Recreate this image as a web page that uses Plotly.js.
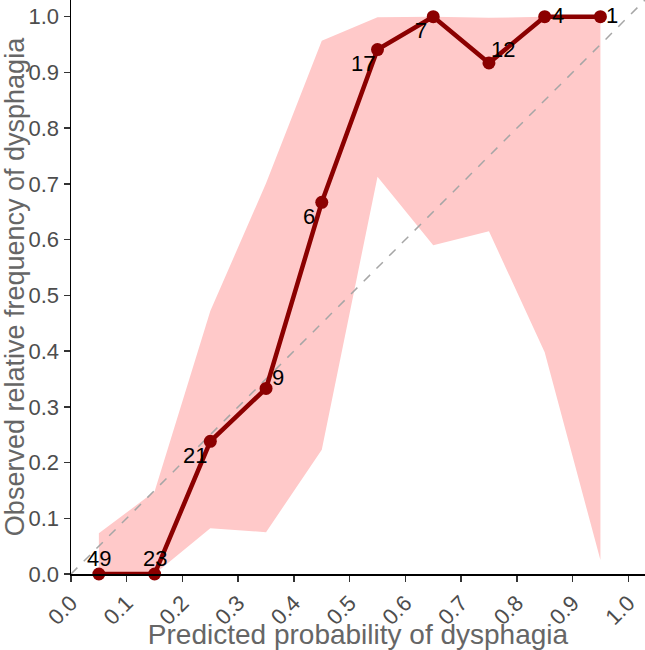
<!DOCTYPE html>
<html>
<head>
<meta charset="utf-8">
<script src="https://cdn.plot.ly/plotly-3.0.1.min.js"></script>
<style>
  html, body { margin: 0; padding: 0; background: #fff; }
  #plot { width: 645px; height: 650px; }
</style>
</head>
<body>
<div id="plot"></div>
<script>
// bin midpoints and observed frequencies
const predicted = [0.05, 0.15, 0.25, 0.35, 0.45, 0.55, 0.65, 0.75, 0.85, 0.95];
const observed = [0, 0, 0.238, 0.333, 0.667, 0.941, 1, 0.917, 1, 1];
const counts = ["49", "23", "21", "9", "6", "17", "7", "12", "4", "1"];
const ciLower = [0, 0, 0.082, 0.075, 0.223, 0.713, 0.590, 0.615, 0.398, 0.025];
const ciUpper = [0.073, 0.148, 0.472, 0.701, 0.957, 0.999, 1, 0.998, 1, 1];
const ticks = [0, 0.1, 0.2, 0.3, 0.4, 0.5, 0.6, 0.7, 0.8, 0.9, 1.0];

// label nudges in pixels
const labelShiftX = [0, 0, -15, 12, -13, -15, -12, 14, 13, 12];
const labelShiftY = [16, 16, -14, 11, -14, -14, -14, 13, 1, 1];

const axMax = 1.03;
const darkRed = "#8B0000";
const font = "Liberation Sans, Arial, sans-serif";

const traces = [
  {
    x: predicted, y: ciLower, type: "scatter", mode: "lines",
    line: { width: 0 }, hoverinfo: "skip", showlegend: false
  },
  {
    x: predicted, y: ciUpper, type: "scatter", mode: "lines",
    line: { width: 0 }, fill: "tonexty", fillcolor: "#FFC9C9",
    hoverinfo: "skip", showlegend: false
  },
  {
    x: [0, axMax], y: [0, axMax], type: "scatter", mode: "lines",
    line: { color: "#A6A6A6", width: 1.5, dash: "dash" }, showlegend: false
  },
  {
    x: predicted, y: observed, type: "scatter", mode: "lines+markers",
    line: { color: darkRed, width: 4.5 },
    marker: { color: darkRed, size: 13 },
    cliponaxis: false, showlegend: false
  }
];

const annotations = predicted.map((p, i) => ({
  x: p, y: observed[i], text: counts[i], showarrow: false,
  xshift: labelShiftX[i], yshift: labelShiftY[i],
  font: { family: font, size: 22, color: "#000" }
}));

const axisCommon = {
  range: [0, axMax],
  tickvals: ticks,
  ticktext: ticks.map(t => t.toFixed(1)),
  showgrid: false, zeroline: false,
  showline: true, linecolor: "#000", linewidth: 1.5,
  ticks: "outside", ticklen: 6, tickwidth: 1.5, tickcolor: "#333",
  tickfont: { family: font, size: 22, color: "#4D4D4D" }
};

const layout = {
  width: 645, height: 650,
  margin: { l: 71, r: 0, t: 0, b: 76 },
  paper_bgcolor: "#fff", plot_bgcolor: "#fff",
  showlegend: false,
  xaxis: Object.assign({}, axisCommon, {
    tickangle: -45,
    title: { text: "Predicted probability of dysphagia", standoff: 4,
      font: { family: font, size: 28, color: "#666" } }
  }),
  yaxis: Object.assign({}, axisCommon, {
    title: { text: "Observed relative frequency of dysphagia", standoff: 4,
      font: { family: font, size: 27, color: "#666" } }
  }),
  annotations: annotations
};

Plotly.newPlot("plot", traces, layout, { displayModeBar: false, staticPlot: true });
</script>
</body>
</html>
